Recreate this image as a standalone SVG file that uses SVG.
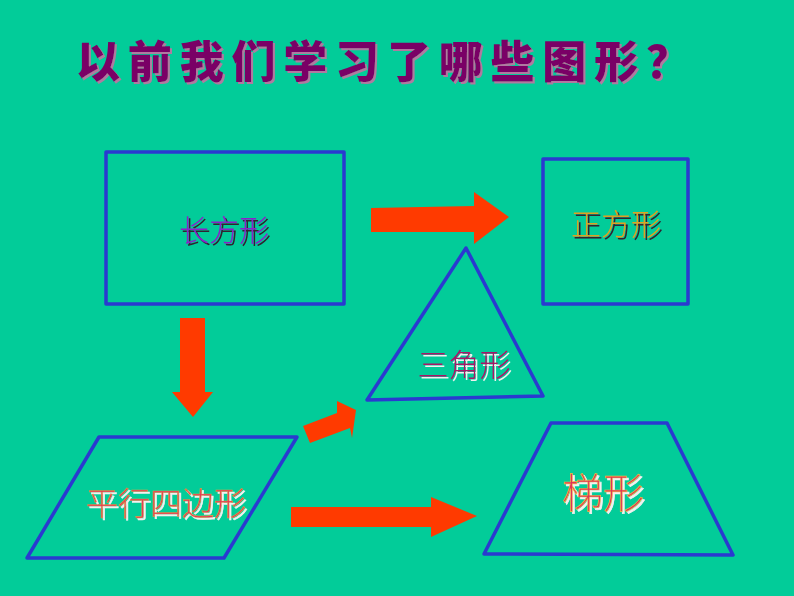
<svg xmlns="http://www.w3.org/2000/svg" width="794" height="596" viewBox="0 0 794 596">
<defs>
<filter id="shTitle" x="-5%" y="-20%" width="110%" height="150%">
<feOffset in="SourceAlpha" dx="2" dy="2" result="o"/>
<feFlood flood-color="#b07aa0"/>
<feComposite operator="in" in2="o" result="s"/>
<feMerge><feMergeNode in="s"/><feMergeNode in="SourceGraphic"/></feMerge>
</filter>
<filter id="shDark" x="-10%" y="-20%" width="120%" height="150%">
<feOffset in="SourceAlpha" dx="2" dy="2" result="o"/>
<feFlood flood-color="#302030"/>
<feComposite operator="in" in2="o" result="s"/>
<feMerge><feMergeNode in="s"/><feMergeNode in="SourceGraphic"/></feMerge>
</filter>
<filter id="shLight" x="-10%" y="-20%" width="120%" height="150%">
<feOffset in="SourceAlpha" dx="2" dy="2" result="o"/>
<feFlood flood-color="#f4f0f0"/>
<feComposite operator="in" in2="o" result="s"/>
<feMerge><feMergeNode in="s"/><feMergeNode in="SourceGraphic"/></feMerge>
</filter>
</defs>
<style>
.bg{fill:#02cc99}
.shape{fill:none;stroke:#2a3ad0;stroke-width:3.5;stroke-linejoin:round}
.arrow{fill:#ff3a00}
.t{font-family:"Noto Sans CJK SC","Noto Sans",sans-serif;font-weight:300;text-anchor:middle}
.title{font-family:"Noto Sans CJK SC",sans-serif;font-weight:900;font-size:44px;fill:#7a0066;filter:url(#shTitle)}
</style>
<rect class="bg" x="0" y="0" width="794" height="596"/>
<g id="title">
<text class="title" x="76" y="78" textLength="614" lengthAdjust="spacing">以前我们学习了哪些图形？</text>
</g>
<g id="rect">
<rect class="shape" x="106" y="152" width="238" height="152"/>
<text class="t" x="224" y="241" font-size="30" fill="#8a22c8" filter="url(#shDark)">长方形</text>
</g>
<g id="square">
<rect class="shape" x="543" y="159" width="145" height="145"/>
<text class="t" x="616" y="235" font-size="30" fill="#e0a020" filter="url(#shDark)">正方形</text>
</g>
<g id="triangle">
<polygon class="shape" points="466,248 543,396 367,400"/>
<text class="t" x="464" y="376" font-size="31" fill="#a81868" filter="url(#shLight)">三角形</text>
</g>
<g id="parallelogram">
<polygon class="shape" points="99,437 297,437 224,558 27,558"/>
<text class="t" x="166" y="515" font-size="32" fill="#e8305a" stroke="#e0a040" stroke-width="0.6" filter="url(#shLight)">平行四边形</text>
</g>
<g id="trapezoid">
<polygon class="shape" points="551,423 667,423 733,555 484,554"/>
<text class="t" x="603" y="508" font-size="41" fill="#e0305a" stroke="#f0c040" stroke-width="0.7" filter="url(#shLight)">梯形</text>
</g>
<g id="connectors">
<polygon class="arrow" points="371,208 474,206 474,192 509,217 474,244 474,232 371,232"/>
<polygon class="arrow" points="180,318 205,318 205,392 213,392 193,417 172,392 180,392"/>
<polygon class="arrow" points="303,426 337,413 337,401 356,410 352,438 350,428 310,443"/>
<polygon class="arrow" points="291,507 431,507 431,497 477,516 431,537 431,527 291,527"/>
</g>
</svg>
